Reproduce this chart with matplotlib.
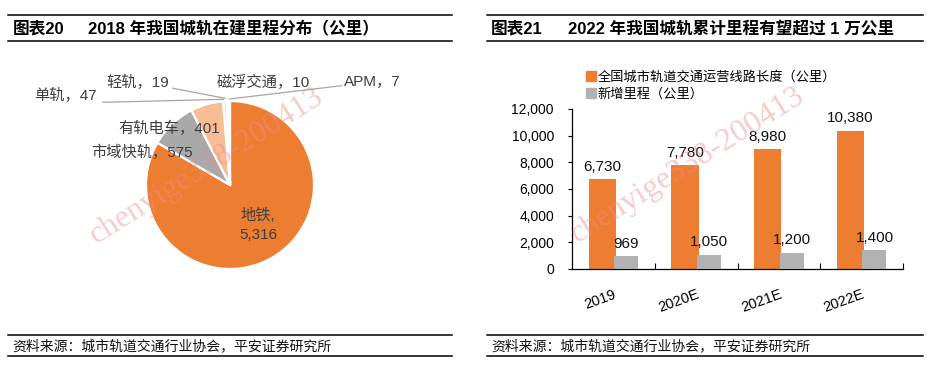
import matplotlib
matplotlib.use("Agg")
import matplotlib.pyplot as plt
from matplotlib.patches import Patch
from matplotlib.lines import Line2D
import numpy as np

FAM = ['Liberation Sans', 'Noto Sans CJK SC']
plt.rcParams['font.family'] = FAM

# ---------------- data ----------------
pie_labels = ['地铁', '市域快轨', '有轨电车', '单轨', '轻轨', '磁浮交通', 'APM']
pie_values = [5316, 575, 401, 47, 19, 10, 7]
pie_colors = ['#ED7D31', '#A9A9A9', '#F7BE96', '#FBE3D2', '#F3F3F3', '#FDEFE6', '#F7F7F7']

years = ['2019', '2020E', '2021E', '2022E']
total_len = [6730, 7780, 8980, 10380]
new_len = [969, 1050, 1200, 1400]
yticks = [0, 2000, 4000, 6000, 8000, 10000, 12000]

W, H = 934, 370
fig = plt.figure(figsize=(W / 100, H / 100), dpi=100)

def fx(px):
    return px / W

def fy(py):
    return 1 - py / H

# ---------------- headers / footers ----------------
for (x0, x1) in [(8, 452), (487, 923)]:
    for yy in (15, 41, 335, 356):
        fig.add_artist(Line2D([fx(x0), fx(x1)], [fy(yy), fy(yy)], color='black', lw=1.1))

fig.text(fx(13), fy(29), '图表20', fontsize=12, fontweight='bold', va='center', ha='left')
fig.text(fx(88), fy(29), '2018 年我国城轨在建里程分布（公里）', fontsize=12, fontweight='bold', va='center', ha='left')
fig.text(fx(491), fy(29), '图表21', fontsize=12, fontweight='bold', va='center', ha='left')
fig.text(fx(568), fy(29), '2022 年我国城轨累计里程有望超过 1 万公里', fontsize=12, fontweight='bold', va='center', ha='left')

src = '资料来源：城市轨道交通行业协会，平安证券研究所'
fig.text(fx(12), fy(346), src, fontsize=10, va='center', ha='left', color='#111111')
fig.text(fx(491), fy(346), src, fontsize=10, va='center', ha='left', color='#111111')

# ---------------- pie ----------------
cx, cy, R = 230, 185, 84
axl, axr, axt, axb = 0, 470, 45, 330
axp = fig.add_axes([fx(axl), fy(axb), fx(axr - axl), (axb - axt) / H])
axp.pie(pie_values, colors=pie_colors, startangle=90, counterclock=False,
        wedgeprops=dict(edgecolor='white', linewidth=1.6))
axp.set_xlim((axl - cx) / R, (axr - cx) / R)
axp.set_ylim(-(axb - cy) / R, (cy - axt) / R)
axp.set_aspect('auto')
axp.axis('off')

def d(px, py):
    return ((px - cx) / R, (cy - py) / R)

lab_col = '#3F3F3F'
fs = 11
txts = {
    '地铁': (258, 225, '地铁,\n{:,}'),
    '市域快轨': (142, 152, '{}，{:,}'),
    '有轨电车': (169.5, 128, '{}，{:,}'),
    '单轨': (65, 95, '{}，{:,}'),
    '轻轨': (138, 82, '{}，{:,}'),
    '磁浮交通': (263.5, 82, '{}，{:,}'),
    'APM': (372.5, 82, '{}，{:,}'),
}
for name, val in zip(pie_labels, pie_values):
    px, py, fmt = txts[name]
    s = fmt.format(val) if name == '地铁' else fmt.format(name, val)
    axp.text(*d(px, py), s, fontsize=fs, color=lab_col, ha='center', va='center',
             multialignment='center', linespacing=1.5)

# leader lines
for (p0, p1) in [((103, 102.3), (223.3, 99.3)),
                 ((173, 88.3), (225, 98.3)),
                 ((341.7, 85.7), (229.3, 99))]:
    a = d(*p0)
    b = d(*p1)
    axp.plot([a[0], b[0]], [a[1], b[1]], color='#A6A6A6', lw=0.9)

# ---------------- bars ----------------
axb2 = fig.add_axes([fx(572), fy(269), fx(903 - 572), 160 / H])
x = np.arange(len(years))
b1 = axb2.bar(x - 0.135, total_len, width=0.33, color='#ED7D31', label='全国城市轨道交通运营线路长度（公里）', zorder=2)
b2 = axb2.bar(x + 0.155, new_len, width=0.29, color='#B2B2B2', label='新增里程（公里）', zorder=3)
axb2.bar_label(b1, labels=[f'{v:,}' for v in total_len], padding=4, fontsize=11, color='#111111')
axb2.bar_label(b2, labels=[f'{v:,}' for v in new_len], padding=4, fontsize=11, color='#111111')
axb2.set_xlim(-0.5, 3.5)
axb2.set_ylim(0, 12000)
axb2.set_yticks(yticks)
axb2.set_yticklabels([f'{v:,}' for v in yticks], fontsize=10)
axb2.tick_params(axis='y', direction='out', length=3, width=0.8, pad=10)
axb2.set_xticks(x)
axb2.set_xticklabels(years, fontsize=10.5, rotation=20, ha='right', rotation_mode='anchor')
axb2.tick_params(axis='x', which='major', length=0, pad=13)
axb2.set_xticks([0.5, 1.5, 2.5, 3.5], minor=True)
axb2.tick_params(axis='x', which='minor', direction='in', length=4, width=0.8)
for sp in ('top', 'right'):
    axb2.spines[sp].set_visible(False)
for sp in ('left', 'bottom'):
    axb2.spines[sp].set_linewidth(0.9)

axb2.legend(handles=[Patch(color='#ED7D31'), Patch(color='#B2B2B2')],
            labels=['全国城市轨道交通运营线路长度（公里）', '新增里程（公里）'],
            loc='upper left', bbox_to_anchor=(fx(586), fy(71)), bbox_transform=fig.transFigure,
            frameon=False, fontsize=9.5, handlelength=0.75, handleheight=0.8,
            handletextpad=0.15, labelspacing=0.3, borderaxespad=0, borderpad=0)

# ---------------- watermarks ----------------
for (wx, wy) in [(207, 166), (688, 165)]:
    fig.text(fx(wx), fy(wy), 'chenyige338-200413', fontsize=23, family='Liberation Serif',
             color='#F08C8C', alpha=0.45, rotation=32, ha='center', va='center', zorder=10)

fig.savefig('out.png', dpi=100)
